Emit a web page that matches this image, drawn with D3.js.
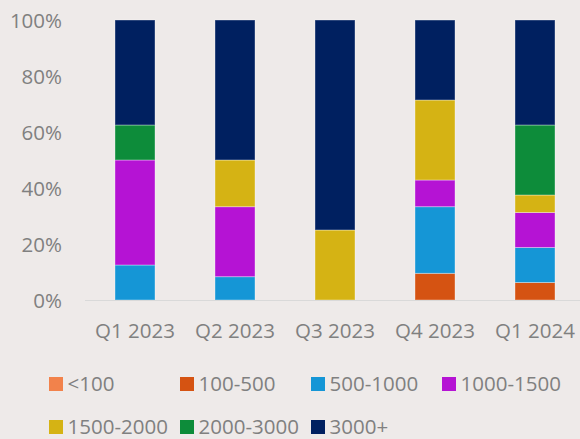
<!DOCTYPE html>
<html>
<head>
<meta charset="utf-8">
<script src="https://cdn.jsdelivr.net/npm/d3@7"></script>
<style>
  html, body { margin: 0; padding: 0; background: #EEEAE9; }
  svg { display: block; }
  text { font-family: "Open Sans", "Liberation Sans", sans-serif; fill: #808080; }
</style>
</head>
<body>
<svg id="chart" width="580" height="439"></svg>
<script>
const categories = ["Q1 2023", "Q2 2023", "Q3 2023", "Q4 2023", "Q1 2024"];
const seriesNames = ["<100", "100-500", "500-1000", "1000-1500", "1500-2000", "2000-3000", "3000+"];
const s_lt100     = [0, 0, 0, 0, 0];
const s_100_500   = [0, 0, 0, 9.52, 6.25];
const s_500_1000  = [12.5, 8.33, 0, 23.81, 12.5];
const s_1000_1500 = [37.5, 25, 0, 9.52, 12.5];
const s_1500_2000 = [0, 16.67, 25, 28.57, 6.25];
const s_2000_3000 = [12.5, 0, 0, 0, 25];
const s_3000p     = [37.5, 50, 75, 28.57, 37.5];
const yTicks = [0, 20, 40, 60, 80, 100];
const colors = ["#F2824B", "#D55312", "#1596D6", "#B513D4", "#D5B314", "#0D8C3A", "#002060"];

const seriesValues = [s_lt100, s_100_500, s_500_1000, s_1000_1500, s_1500_2000, s_2000_3000, s_3000p];
const rows = categories.map((c, i) => {
  const r = { cat: c };
  seriesNames.forEach((n, k) => r[n] = seriesValues[k][i]);
  return r;
});

const svg = d3.select("#chart");
const x = d3.scaleBand().domain(categories).range([85, 585]).paddingInner(0.6).paddingOuter(0.3);
const y = d3.scaleLinear().domain([0, 100]).range([300, 20]);
const color = d3.scaleOrdinal().domain(seriesNames).range(colors);

const stacked = d3.stack().keys(seriesNames)(rows);

// bars
svg.append("g").selectAll("g").data(stacked).join("g")
  .attr("fill", d => color(d.key))
  .selectAll("rect").data(d => d.filter(p => p[1] - p[0] > 0)).join("rect")
  .attr("x", d => x(d.data.cat))
  .attr("width", x.bandwidth())
  .attr("y", d => y(d[1]))
  .attr("height", d => y(d[0]) - y(d[1]))
  .attr("stroke", "rgba(255,255,255,0.35)")
  .attr("stroke-width", 1);

// y axis (labels only)
const yAxis = svg.append("g").attr("transform", "translate(85,0)")
  .call(d3.axisLeft(y).tickValues(yTicks).tickFormat(d => d + "%").tickSize(0).tickPadding(23));
yAxis.select(".domain").remove();
yAxis.selectAll("text").attr("dy", null).attr("dominant-baseline", null)
  .attr("y", 7.3).style("font-size", "20.5px").attr("fill", "#808080");

// x axis
const xAxis = svg.append("g").attr("transform", "translate(0,300)")
  .call(d3.axisBottom(x).tickSize(0).tickPadding(0));
xAxis.select(".domain").remove();
xAxis.selectAll("text").attr("dy", null).attr("y", 38)
  .style("font-size", "20.5px").attr("fill", "#808080");
svg.append("line").attr("x1", 85).attr("x2", 580).attr("y1", 300.5).attr("y2", 300.5)
  .attr("stroke", "#D9D9D9").attr("stroke-width", 1.2);

// legend
const legendCols = [49, 180, 311, 442];
const legendRows = [377, 420];
const legend = svg.append("g").selectAll("g").data(seriesNames).join("g")
  .attr("transform", (d, i) => `translate(${legendCols[i % 4]},${legendRows[Math.floor(i / 4)]})`);
legend.append("rect").attr("width", 14).attr("height", 14).attr("fill", d => color(d));
legend.append("text").attr("x", 18.5).attr("y", 14.3).text(d => d)
  .style("font-size", "20.5px").attr("fill", "#808080");
</script>
</body>
</html>
